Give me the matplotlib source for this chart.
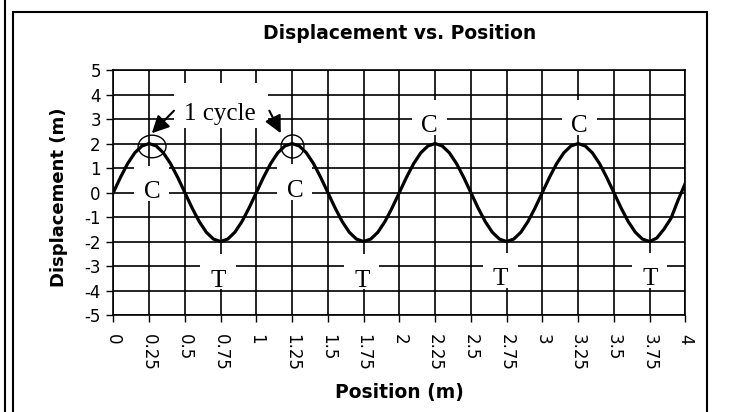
import matplotlib.pyplot as plt
from matplotlib.lines import Line2D
from matplotlib.patches import Ellipse, Rectangle

# wave samples, every 0.05 m
position_m = [
    0.00, 0.05, 0.10, 0.15, 0.20, 0.25, 0.30, 0.35, 0.40, 0.45,
    0.50, 0.55, 0.60, 0.65, 0.70, 0.75, 0.80, 0.85, 0.90, 0.95,
    1.00, 1.05, 1.10, 1.15, 1.20, 1.25, 1.30, 1.35, 1.40, 1.45,
    1.50, 1.55, 1.60, 1.65, 1.70, 1.75, 1.80, 1.85, 1.90, 1.95,
    2.00, 2.05, 2.10, 2.15, 2.20, 2.25, 2.30, 2.35, 2.40, 2.45,
    2.50, 2.55, 2.60, 2.65, 2.70, 2.75, 2.80, 2.85, 2.90, 2.95,
    3.00, 3.05, 3.10, 3.15, 3.20, 3.25, 3.30, 3.35, 3.40, 3.45,
    3.50, 3.55, 3.60, 3.65, 3.70, 3.75, 3.80, 3.85, 3.90, 3.95,
    4.00,
]
displacement_m = [
    0.00, 0.62, 1.18, 1.62, 1.90, 2.00, 1.90, 1.62, 1.18, 0.62,
    0.00, -0.62, -1.18, -1.62, -1.90, -2.00, -1.90, -1.62, -1.18, -0.62,
    0.00, 0.62, 1.18, 1.62, 1.90, 2.00, 1.90, 1.62, 1.18, 0.62,
    0.00, -0.62, -1.18, -1.62, -1.90, -2.00, -1.90, -1.62, -1.18, -0.62,
    0.00, 0.62, 1.18, 1.62, 1.90, 2.00, 1.90, 1.62, 1.18, 0.62,
    0.00, -0.62, -1.18, -1.62, -1.90, -2.00, -1.90, -1.62, -1.18, -0.62,
    0.00, 0.62, 1.18, 1.62, 1.90, 2.00, 1.90, 1.62, 1.18, 0.62,
    0.00, -0.62, -1.18, -1.62, -1.90, -2.00, -1.86, -1.50, -1.05, -0.30,
    0.38,
]

x_ticks = [0, 0.25, 0.5, 0.75, 1, 1.25, 1.5, 1.75, 2, 2.25, 2.5, 2.75,
           3, 3.25, 3.5, 3.75, 4]
x_tick_labels = ["0", "0.25", "0.5", "0.75", "1", "1.25", "1.5", "1.75", "2",
                 "2.25", "2.5", "2.75", "3", "3.25", "3.5", "3.75", "4"]
y_ticks = [5, 4, 3, 2, 1, 0, -1, -2, -3, -4, -5]
y_tick_labels = ["5", "4", "3", "2", "1", "0", "-1", "-2", "-3", "-4", "-5"]

# crest / trough markers: label, x, baseline y
wave_labels = ["C", "C", "C", "C", "T", "T", "T", "T"]
label_x = [0.27, 1.27, 2.21, 3.257, 0.732, 1.737, 2.706, 3.751]
label_y = [-0.24, -0.17, 2.48, 2.48, -3.84, -3.84, -3.78, -3.78]

SERIF = "Liberation Serif"
SANS = "DejaVu Sans"

plt.rcParams["axes.unicode_minus"] = False
plt.rcParams["font.family"] = SANS

fig = plt.figure(figsize=(7.34, 4.12), dpi=100)

# page line on the left and the chart frame
fig.add_artist(Line2D([0.0068, 0.0068], [0, 1], transform=fig.transFigure,
                      color="black", lw=1.5))
fig.add_artist(Rectangle((0.0177, -0.2), 0.9455, 1.1709, transform=fig.transFigure,
                         fill=False, edgecolor="black", lw=1.5))

ax = fig.add_axes([0.1544, 0.2354, 0.7793, 0.5946])
ax.set_xlim(0, 4)
ax.set_ylim(-5, 5)
ax.set_axisbelow(True)
ax.grid(True, color="black", lw=1.2)
for spine in ax.spines.values():
    spine.set_linewidth(1.2)

ax.set_xticks(x_ticks)
ax.set_xticklabels(x_tick_labels, rotation=-90, fontsize=12)
ax.set_yticks(y_ticks)
ax.set_yticklabels(y_tick_labels, fontsize=12)
ax.tick_params(axis="both", direction="out", length=5, width=1.0, color="black")
ax.tick_params(axis="x", pad=9)
ax.tick_params(axis="y", pad=4)

ax.plot(position_m, displacement_m, color="black", lw=2.3, zorder=3,
        solid_joinstyle="round")

# white text boxes that cut the grid, as in the original
for lab, lx, ly in zip(wave_labels, label_x, label_y):
    ax.add_patch(Rectangle((lx - 0.1225, ly + 0.6 - 0.715), 0.245, 1.43,
                           facecolor="white", edgecolor="none", zorder=2))
    ax.text(lx, ly, lab, family=SERIF, fontsize=18, ha="center", va="baseline",
            zorder=4)

ax.add_patch(Rectangle((0.754 - 0.3285, 3.57 - 0.92), 0.657, 1.84,
                       facecolor="white", edgecolor="none", zorder=2))
ax.text(0.747, 2.96, "1 cycle", family=SERIF, fontsize=18, ha="center",
        va="baseline", zorder=4)

ax.add_patch(Ellipse((0.271, 1.88), 0.195, 0.92, fill=False, edgecolor="black",
                     lw=1.0, zorder=4))
ax.add_patch(Ellipse((1.253, 1.88), 0.16, 0.94, fill=False, edgecolor="black",
                     lw=1.0, zorder=4))

arrow = dict(arrowstyle="-|>", mutation_scale=26, lw=1.5, color="black",
             shrinkA=0, shrinkB=0)
ax.annotate("", xy=(0.269, 2.42), xytext=(0.424, 3.34), arrowprops=arrow, zorder=5)
ax.annotate("", xy=(1.171, 2.42), xytext=(1.091, 3.34), arrowprops=arrow, zorder=5)

fig.text(0.545, 0.918, "Displacement vs. Position", fontsize=13.5,
         fontweight="bold", ha="center", va="center")
fig.text(0.544, 0.048, "Position (m)", fontsize=13.5, fontweight="bold",
         ha="center", va="center")
fig.text(0.080, 0.522, "Displacement (m)", fontsize=13, fontweight="bold",
         ha="center", va="center", rotation=90)

fig.savefig("out.png", dpi=100)
